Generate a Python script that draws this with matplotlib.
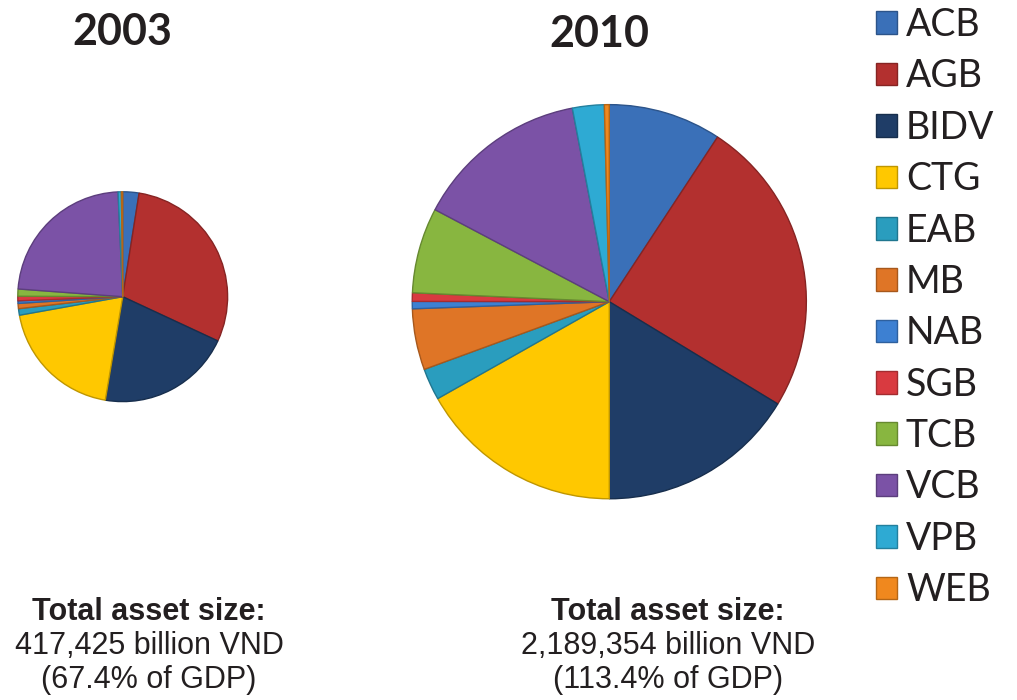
import matplotlib
matplotlib.use("Agg")
import matplotlib.pyplot as plt
import matplotlib.colors as mcolors
from matplotlib.patches import Patch

banks = ["ACB", "AGB", "BIDV", "CTG", "EAB", "MB", "NAB", "SGB", "TCB", "VCB", "VPB", "WEB"]
share_2003 = [2.5, 29.4, 20.7, 19.5, 1.0, 0.8, 0.4, 0.7, 1.1, 23.1, 0.5, 0.2]
share_2010 = [9.25, 24.4, 16.3, 16.8, 2.6, 5.0, 0.6, 0.7, 7.0, 14.25, 2.6, 0.4]
colors = ["#3A70B8", "#B3302F", "#1F3D67", "#FFC800", "#2A9DBE", "#DF7526",
          "#3D80D2", "#D93A40", "#88B640", "#7B52A6", "#2EAAD3", "#F0881E"]
years = ["2003", "2010"]
totals = ["417,425 billion VND\n(67.4% of GDP)", "2,189,354 billion VND\n(113.4% of GDP)"]

W, H = 1017, 700
fig = plt.figure(figsize=(W / 100, H / 100), dpi=100)


def darker(c, f=0.7):
    r, g, b = mcolors.to_rgb(c)
    return (r * f, g * f, b * f)


def add_pie(cx, cy, r, values):
    ax = fig.add_axes([(cx - r) / W, (H - cy - r) / H, 2 * r / W, 2 * r / H])
    wedges, _ = ax.pie(values, colors=colors, startangle=90, counterclock=False,
                       radius=1.0, wedgeprops=dict(linewidth=1.0))
    for w, c in zip(wedges, colors):
        w.set_edgecolor(darker(c, 0.75))
    ax.set_xlim(-1.02, 1.02)
    ax.set_ylim(-1.02, 1.02)
    ax.set_aspect("equal")
    ax.axis("off")
    return wedges


add_pie(122.7, 296.7, 107, share_2003)
add_pie(609.3, 301.7, 201, share_2010)

fig.text(122 / W, 1 - 32 / H, years[0], ha="center", va="center",
         fontsize=31, fontweight="bold", family="Lato", color="#231F20")
fig.text(599 / W, 1 - 34 / H, years[1], ha="center", va="center",
         fontsize=31, fontweight="bold", family="Lato", color="#231F20")

for cx, tot in [(149, totals[0]), (668, totals[1])]:
    fig.text(cx / W, 1 - 612 / H, "Total asset size:", ha="center", va="center",
             fontsize=22, fontweight="bold", family="Liberation Sans", color="#231F20")
    l1, l2 = tot.split("\n")
    fig.text(cx / W, 1 - 646 / H, l1, ha="center", va="center",
             fontsize=22, family="Liberation Sans", color="#231F20")
    fig.text(cx / W, 1 - 680 / H, l2, ha="center", va="center",
             fontsize=22, family="Liberation Sans", color="#231F20")

handles = [Patch(facecolor=c, edgecolor=darker(c, 0.75), linewidth=1.0) for c in colors]
fig.legend(handles, banks, loc="upper left", bbox_to_anchor=(876 / W, 1 - 7 / H),
           frameon=False, borderpad=0, borderaxespad=0,
           prop=dict(family="Lato", size=27), handlelength=0.55, handleheight=0.55,
           handletextpad=0.25, labelspacing=0.41, labelcolor="#231F20")

fig.savefig("out.png", dpi=100)
